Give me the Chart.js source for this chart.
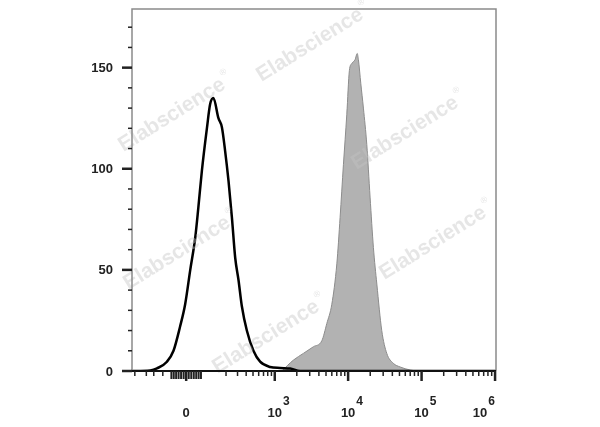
<!DOCTYPE html>
<html>
<head>
<meta charset="utf-8">
<title>Flow histogram</title>
<script src="https://cdn.jsdelivr.net/npm/chart.js@4.4.0/dist/chart.umd.min.js"></script>
<style>
  html, body { margin: 0; padding: 0; background: #fff; }
  canvas { display: block; }
</style>
</head>
<body>
<canvas id="histChart" width="600" height="427"></canvas>
<script>
// unstained control (black outline), raw fluorescence vs count
const unstainedX = [-330, -173, -131, -80, -51, -24, -4, 16, 36, 49, 64, 87, 103, 120, 149, 171, 193, 219, 247, 277, 310, 347, 409, 507, 628, 864, 1186, 1624, 2222, 1030000];
const unstainedY = [0, 0.3, 1.3, 4.6, 10, 22, 33, 50, 66, 81, 99, 120, 132, 135, 125, 120.5, 109, 94, 76, 56, 45, 32, 20, 10, 4.6, 2, 1.5, 1.2, 0, 0];

// stained sample (grey filled)
const stainedX = [1250, 1800, 2460, 3370, 4390, 5130, 6000, 7020, 7780, 8630, 9600, 10400, 11200, 12450, 13300, 13800, 14900, 16150, 17950, 19900, 22100, 24600, 28700, 33600, 41300, 51000, 69700, 86800];
const stainedY = [0, 5.4, 8.7, 12, 15, 23.5, 33, 53, 76, 102, 127, 148.5, 152, 154, 157, 154, 142, 130, 112, 86, 61, 43, 20, 8.7, 3.8, 2, 0.5, 0];

// axis ticks
const xMajorTicks = [0, 1e3, 1e4, 1e5, 1e6];
const xExponents = ['', '3', '4', '5', '6'];
const xMinorTicks = [-300, -200, -150, -100,
  -60, -50, -40, -30, -20, -10, 10, 20, 30, 40, 50, 60,
  200, 300, 400, 500, 600, 700, 800, 900,
  2000, 3000, 4000, 5000, 6000, 7000, 8000, 9000,
  20000, 30000, 40000, 50000, 60000, 70000, 80000, 90000,
  200000, 300000, 400000, 500000, 600000, 700000, 800000, 900000];
const yMajorTicks = [0, 50, 100, 150];
const yMinorTicks = [10, 20, 30, 40, 60, 70, 80, 90, 110, 120, 130, 140, 160, 170];

const W = 125;
const biex = v => Math.asinh(v / W) / Math.LN10;

const watermarks = [[310, 45], [172, 115], [405, 133], [177, 253], [433, 243], [266, 337]];
const labelFont = 'bold 13px "Liberation Sans", Arial, sans-serif';
const expFont = 'bold 12px "Liberation Sans", Arial, sans-serif';

const flowAxes = {
  id: 'flowAxes',
  afterDatasetsDraw(chart) {
    const ctx = chart.ctx;
    const area = chart.chartArea;
    const xs = chart.scales.x, ys = chart.scales.y;

    // watermark
    watermarks.forEach(([cx, cy]) => {
      ctx.save();
      ctx.translate(cx, cy);
      ctx.rotate(-32 * Math.PI / 180);
      ctx.fillStyle = 'rgba(195,195,195,0.42)';
      ctx.font = 'bold 21px "Liberation Sans", Arial, sans-serif';
      ctx.textAlign = 'center';
      ctx.textBaseline = 'middle';
      ctx.fillText('Elabscience', 0, 0);
      const tw = ctx.measureText('Elabscience').width;
      ctx.font = '9px "Liberation Sans", Arial, sans-serif';
      ctx.textAlign = 'left';
      ctx.fillText('®', tw / 2 + 2, -9);
      ctx.restore();
    });

    ctx.save();
    // frame
    ctx.strokeStyle = '#8a8a8a';
    ctx.lineWidth = 1.5;
    ctx.beginPath();
    ctx.moveTo(area.left, area.bottom);
    ctx.lineTo(area.left, area.top);
    ctx.lineTo(area.right, area.top);
    ctx.lineTo(area.right, area.bottom);
    ctx.stroke();
    ctx.strokeStyle = '#111';
    ctx.lineWidth = 2;
    ctx.beginPath();
    ctx.moveTo(area.left, area.bottom);
    ctx.lineTo(area.right, area.bottom);
    ctx.stroke();

    // y ticks and labels
    ctx.strokeStyle = '#222';
    ctx.fillStyle = '#222';
    ctx.font = labelFont;
    ctx.textAlign = 'right';
    ctx.textBaseline = 'middle';
    yMajorTicks.forEach(v => {
      const py = ys.getPixelForValue(v);
      ctx.lineWidth = 2.5;
      ctx.beginPath(); ctx.moveTo(area.left - 10, py); ctx.lineTo(area.left, py); ctx.stroke();
      ctx.fillText(String(v), 113, py + 1);
    });
    yMinorTicks.forEach(v => {
      const py = ys.getPixelForValue(v);
      ctx.lineWidth = 1.5;
      ctx.beginPath(); ctx.moveTo(area.left - 4, py); ctx.lineTo(area.left, py); ctx.stroke();
    });

    // x ticks
    xMinorTicks.forEach(v => {
      const px = xs.getPixelForValue(biex(v));
      const near0 = Math.abs(v) < 100;
      ctx.lineWidth = near0 ? 2 : 1.5;
      ctx.beginPath(); ctx.moveTo(px, area.bottom); ctx.lineTo(px, area.bottom + (near0 ? 8 : 5)); ctx.stroke();
    });
    xMajorTicks.forEach(v => {
      const px = Math.min(xs.getPixelForValue(biex(v)), area.right);
      ctx.lineWidth = 2.5;
      ctx.beginPath(); ctx.moveTo(px, area.bottom); ctx.lineTo(px, area.bottom + 10); ctx.stroke();
    });

    // x labels with superscript exponents
    ctx.textBaseline = 'alphabetic';
    xMajorTicks.forEach((v, i) => {
      const px = xs.getPixelForValue(biex(v));
      ctx.font = labelFont;
      if (v === 0) {
        ctx.textAlign = 'center';
        ctx.fillText('0', px, 417);
        return;
      }
      const w10 = ctx.measureText('10').width;
      ctx.font = expFont;
      const wExp = ctx.measureText(xExponents[i]).width;
      let left = px - w10 / 2;
      if (left + w10 + 1 + wExp > area.right) left = area.right - (w10 + 1 + wExp) - 1;
      ctx.textAlign = 'left';
      ctx.font = labelFont;
      ctx.fillText('10', left, 417);
      ctx.font = expFont;
      ctx.fillText(xExponents[i], left + w10 + 1, 405);
    });
    ctx.restore();
  }
};

new Chart(document.getElementById('histChart'), {
  type: 'line',
  data: {
    datasets: [
      {
        label: 'Unstained',
        data: unstainedX.map((v, i) => ({ x: biex(v), y: unstainedY[i] })),
        borderColor: '#000',
        borderWidth: 2.5,
        pointRadius: 0,
        fill: false,
        cubicInterpolationMode: 'monotone'
      },
      {
        label: 'Stained',
        data: stainedX.map((v, i) => ({ x: biex(v), y: stainedY[i] })),
        borderColor: '#8c8c8c',
        backgroundColor: '#b2b2b2',
        borderWidth: 1,
        pointRadius: 0,
        fill: 'origin',
        cubicInterpolationMode: 'monotone'
      }
    ]
  },
  options: {
    responsive: false,
    animation: false,
    devicePixelRatio: 1,
    layout: { padding: { top: 9, right: 104, left: 0, bottom: 0 } },
    plugins: { legend: { display: false }, tooltip: { enabled: false } },
    scales: {
      x: {
        type: 'linear',
        min: biex(-330),
        max: biex(1030000),
        grid: { display: false },
        border: { display: false },
        ticks: { display: false },
        afterFit(scale) { scale.height = 56; }
      },
      y: {
        min: 0,
        max: 179,
        grid: { display: false },
        border: { display: false },
        ticks: { display: false },
        afterFit(scale) { scale.width = 132; }
      }
    }
  },
  plugins: [flowAxes]
});
</script>
</body>
</html>
